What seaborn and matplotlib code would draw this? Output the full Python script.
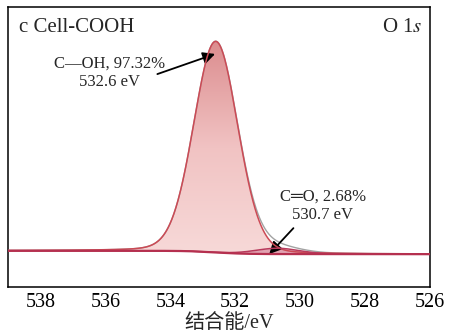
import numpy as np
import pandas as pd
import matplotlib
matplotlib.use("Agg")
import matplotlib.pyplot as plt
from matplotlib.colors import LinearSegmentedColormap
import seaborn as sns

# O 1s fit components of Cell-COOH
components = ["C—OH", "C═O"]
centers_ev = [532.6, 530.7]        # binding energy, eV
area_percent = [97.32, 2.68]       # share of the fitted area, %
fwhm_ev = [1.60, 1.60]             # full width at half maximum, eV
lorentz_mix = 0.10                 # Lorentzian fraction of the line shape
bg_low, bg_high = 0.0, 0.016       # background level on the low / high BE side
tick_values = [538, 536, 534, 532, 530, 528, 526]
energy_range = (539.0, 526.0)

sns.set_theme(style="white")
plt.rcParams["font.family"] = ["Liberation Serif", "DejaVu Sans", "Noto Sans CJK SC"]
plt.rcParams["mathtext.fontset"] = "stix"

energy = np.linspace(energy_range[1], energy_range[0], 1400)


def line_shape(e, center, fwhm):
    d = (e - center) / fwhm
    return (1 - lorentz_mix) * np.exp(-4 * np.log(2) * d ** 2) + lorentz_mix / (1 + 4 * d ** 2)


# heights scale with area at equal width; main component normalised to 1
scale = 1.0 / area_percent[0]
peaks = [p * scale * line_shape(energy, c, w) for c, p, w in zip(centers_ev, area_percent, fwhm_ev)]
total = np.sum(peaks, axis=0)
# Shirley-type step: grows with the integrated signal toward higher binding energy
cum = np.cumsum(total)
background = bg_low + (bg_high - bg_low) * cum / cum[-1]

df = pd.DataFrame({"energy": energy, "bg": background,
                   "comp1": background + peaks[0], "comp2": background + peaks[1],
                   "envelope": background + total})

fig = plt.figure(figsize=(4.49, 3.35), dpi=100)
ax = fig.add_axes([0.0178, 0.143, 0.940, 0.836])

# main component: vertical gradient fill clipped to the peak area
poly = ax.fill_between(df["energy"], df["bg"], df["comp1"], color="none", lw=0)
cmap = LinearSegmentedColormap.from_list("pk", ["#f7d9d8", "#f1c3c3", "#dc8d8f"])
grad = np.linspace(0, 1, 256).reshape(-1, 1)
top = df["comp1"].max()
img = ax.imshow(grad, cmap=cmap, aspect="auto", origin="lower",
                extent=[energy_range[1], energy_range[0], 0.0, top], zorder=1)
img.set_clip_path(poly.get_paths()[0], transform=ax.transData)

# minor component
ax.fill_between(df["energy"], df["bg"], df["comp2"], color="#dc95a8", alpha=0.8, lw=0, zorder=2)

sns.lineplot(data=df, x="energy", y="envelope", color="#a3a3a3", lw=1.0, ax=ax, zorder=3)
sns.lineplot(data=df, x="energy", y="comp1", color="#cc4a55", lw=1.1, ax=ax, zorder=4)
sns.lineplot(data=df, x="energy", y="comp2", color="#b83a5c", lw=1.1, ax=ax, zorder=4)
sns.lineplot(data=df, x="energy", y="bg", color="#b5304f", lw=1.6, ax=ax, zorder=5)

ax.set_xlim(*energy_range)
ax.set_ylim(-0.156, 1.171)
ax.set_xticks(tick_values)
ax.set_xticklabels([str(t) for t in tick_values], fontsize=14.5)
ax.set_yticks([])
ax.tick_params(axis="x", direction="in", length=4, width=1.0, pad=4, colors="black")
for s in ax.spines.values():
    s.set_color("black")
    s.set_linewidth(1.1)
ax.set_ylabel("")
ax.set_xlabel("")
fig.text(229 / 449, 1 - 324 / 335, "结合能/eV", fontsize=14.5,
         family=["Liberation Serif", "Noto Sans CJK SC"], ha="center", va="center")

ax.text(0.026, 0.911, "c Cell-COOH", transform=ax.transAxes, fontsize=15, va="baseline", ha="left")
ax.text(0.981, 0.911, "O 1$\\it{s}$", transform=ax.transAxes, fontsize=15, va="baseline", ha="right")

# peak labels
ax.text(535.87, 0.861, f"{components[0]}, {area_percent[0]:.2f}%\n{centers_ev[0]} eV",
        fontsize=12, ha="center", va="center", linespacing=1.2)
ax.annotate("", xy=(532.54, 0.953), xytext=(534.48, 0.849),
            arrowprops=dict(arrowstyle="-|>,head_length=0.6,head_width=0.3", color="black", lw=1.3))
ax.text(529.31, 0.228, f"{components[1]}, {area_percent[1]:.2f}%\n{centers_ev[1]} eV",
        fontsize=12, ha="center", va="center", linespacing=1.2)
ax.annotate("", xy=(531.01, -0.009), xytext=(530.15, 0.133),
            arrowprops=dict(arrowstyle="-|>,head_length=0.6,head_width=0.3", color="black", lw=1.3))

fig.savefig("out.png", dpi=100)
